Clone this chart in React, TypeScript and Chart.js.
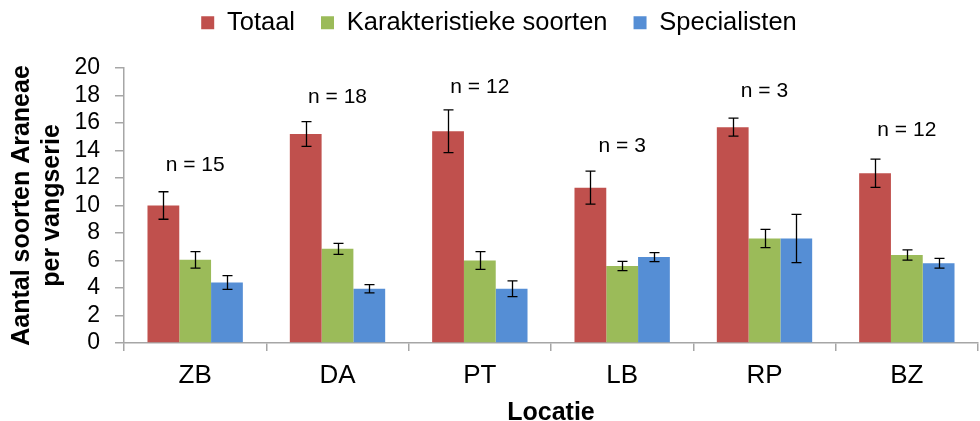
import React, { useEffect, useRef } from 'react';
import { Chart, registerables } from 'chart.js';

Chart.register(...registerables);

const categories = ['ZB', 'DA', 'PT', 'LB', 'RP', 'BZ'];
const totaal = [10.0, 15.2, 15.4, 11.3, 15.7, 12.35];
const karakteristiek = [6.05, 6.85, 6.0, 5.6, 7.6, 6.4];
const specialisten = [4.4, 3.95, 3.95, 6.25, 7.6, 5.8];
const totaalErr = [1.0, 0.9, 1.55, 1.2, 0.66, 1.03];
const karakteristiekErr = [0.6, 0.4, 0.65, 0.33, 0.67, 0.37];
const specialistenErr = [0.5, 0.3, 0.57, 0.33, 1.75, 0.36];
const nLabels = ['n = 15', 'n = 18', 'n = 12', 'n = 3', 'n = 3', 'n = 12'];
const nLabelY = [12.95, 17.9, 18.6, 14.3, 18.3, 15.5];
const yTicks = [0, 2, 4, 6, 8, 10, 12, 14, 16, 18, 20];

const FONT = "'Liberation Sans', Arial, Helvetica, sans-serif";
const AXIS = '#A6A6A6';

export default function App() {
  const ref = useRef<HTMLCanvasElement>(null);

  useEffect(() => {
    if (!ref.current) return;
    const errs = [totaalErr, karakteristiekErr, specialistenErr];
    const errorBars = {
      id: 'errorBars',
      afterDatasetsDraw(chart: any) {
        const ctx = chart.ctx;
        const ys = chart.scales.y;
        ctx.save();
        ctx.strokeStyle = '#000';
        ctx.lineWidth = 1.3;
        chart.data.datasets.forEach((ds: any, di: number) => {
          const meta = chart.getDatasetMeta(di);
          meta.data.forEach((bar: any, i: number) => {
            const v = ds.data[i];
            const e = errs[di][i];
            const x = Math.round(bar.x) + 0.5;
            const yt = ys.getPixelForValue(v + e);
            const yb = ys.getPixelForValue(v - e);
            ctx.beginPath();
            ctx.moveTo(x, yt);
            ctx.lineTo(x, yb);
            ctx.moveTo(x - 5, yt);
            ctx.lineTo(x + 5, yt);
            ctx.moveTo(x - 5, yb);
            ctx.lineTo(x + 5, yb);
            ctx.stroke();
          });
        });
        ctx.restore();
      },
    };
    const nPlugin = {
      id: 'nLabels',
      afterDatasetsDraw(chart: any) {
        const ctx = chart.ctx;
        const xs = chart.scales.x;
        const ys = chart.scales.y;
        ctx.save();
        ctx.fillStyle = '#000';
        ctx.font = `21px ${FONT}`;
        ctx.textAlign = 'center';
        ctx.textBaseline = 'middle';
        nLabels.forEach((t, i) => {
          ctx.fillText(t, xs.getPixelForValue(i), ys.getPixelForValue(nLabelY[i]));
        });
        ctx.restore();
      },
    };

    const chart: any = new Chart(ref.current, {
      type: 'bar',
      data: {
        labels: categories,
        datasets: [
          { label: 'Totaal', data: totaal, backgroundColor: '#C0504D' },
          { label: 'Karakteristieke soorten', data: karakteristiek, backgroundColor: '#9BBB59' },
          { label: 'Specialisten', data: specialisten, backgroundColor: '#558ED5' },
        ],
      },
      options: {
        responsive: false,
        animation: false,
        devicePixelRatio: 1,
        layout: { padding: { left: 20, right: 2, top: -16, bottom: 0 } },
        datasets: { bar: { categoryPercentage: 0.67, barPercentage: 1 } },
        plugins: {
          tooltip: { enabled: false },
          legend: {
            position: 'top',
            labels: {
              boxWidth: 13,
              boxHeight: 13,
              padding: 26,
              color: '#000',
              font: { family: FONT, size: 25.5 },
            },
          },
        },
        scales: {
          x: {
            grid: { drawOnChartArea: false, drawTicks: true, tickLength: 8, color: AXIS, lineWidth: 1.5 },
            border: { color: AXIS, width: 1.5 },
            ticks: { color: '#000', font: { family: FONT, size: 26 }, padding: 9 },
            title: {
              display: true,
              text: 'Locatie',
              color: '#000',
              font: { family: FONT, size: 25, weight: 'bold', lineHeight: 0.6 },
              padding: { top: 0, bottom: 0 },
            },
            afterFit(scale: any) {
              scale.height = 78;
            },
          },
          y: {
            min: 0,
            max: 20,
            afterBuildTicks(scale: any) {
              scale.ticks = yTicks.map((v) => ({ value: v }));
            },
            grid: { drawOnChartArea: false, drawTicks: true, tickLength: 9, color: AXIS, lineWidth: 1.5 },
            border: { color: AXIS, width: 1.5 },
            ticks: { color: '#000', font: { family: FONT, size: 23 }, padding: 15, autoSkip: false },
            title: {
              display: true,
              text: ['Aantal soorten Araneae', 'per vangserie'],
              color: '#000',
              font: { family: FONT, size: 25, weight: 'bold', lineHeight: 1.2 },
              padding: { top: -13, bottom: 0 },
            },
            afterFit(scale: any) {
              scale.width = 104;
            },
          },
        },
      },
      plugins: [errorBars, nPlugin],
    } as any);

    const legend = chart.legend;
    if (legend) {
      const origFit = legend.fit.bind(legend);
      legend.fit = function () {
        origFit();
        this.height = 84;
      };
      chart.update();
    }
    return () => chart.destroy();
  }, []);

  return (
    <div style={{ position: 'fixed', left: 0, top: 0, width: 980, height: 421, background: '#fff' }}>
      <canvas ref={ref} width={980} height={421} style={{ display: 'block' }} />
    </div>
  );
}
